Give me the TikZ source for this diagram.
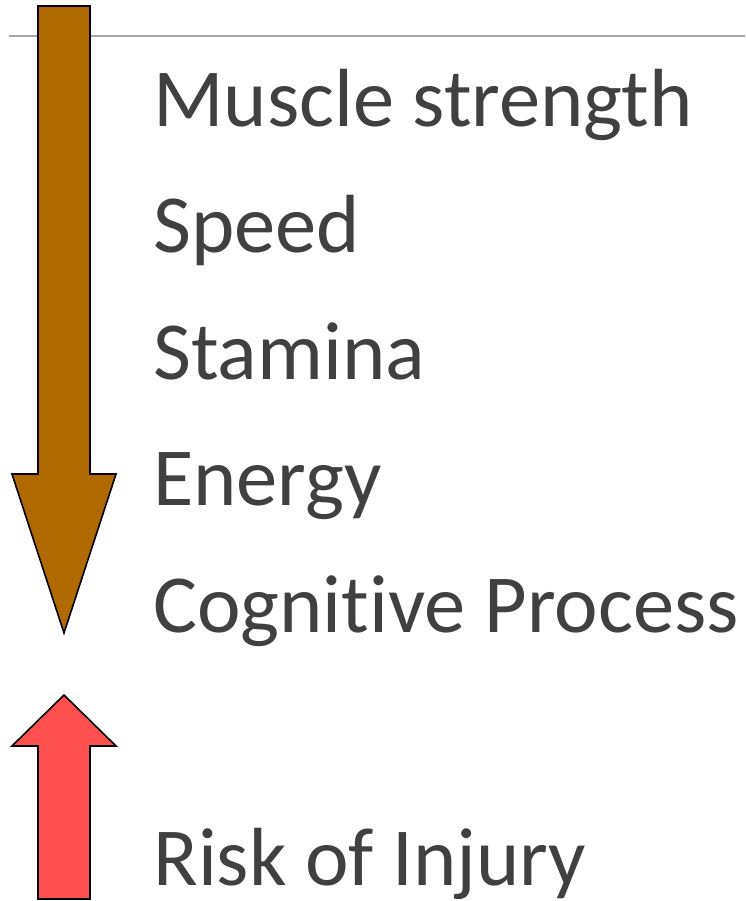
\documentclass[tikz,border=0pt]{standalone}
\usepackage{fontspec}
\setmainfont{Carlito}[Ligatures=NoCommon]
\definecolor{txtgray}{HTML}{404040}
\definecolor{rulegray}{HTML}{A6A6A6}
\definecolor{brownarr}{HTML}{B06A00}
\definecolor{redarr}{HTML}{FF5050}
\tikzset{item/.style={anchor=base west,inner sep=0pt,text=txtgray,font=\fontsize{82.5}{90}\selectfont}}
\newcommand{\factor}[3]{\node[item] (#1) at (153,#2) {#3};}
\newcommand{\dropArrow}[2]{\draw[fill=#2,line width=1.6pt,line join=miter] (38,6) -- (90,6) -- (90,474) -- (116,474) -- (64,633) -- (12,474) -- (38,474) -- cycle; \coordinate (#1) at (64,633);}
\newcommand{\riseArrow}[2]{\draw[fill=#2,line width=1.6pt,line join=miter] (64,695) -- (116,746) -- (90,746) -- (90,899) -- (38,899) -- (38,746) -- (12,746) -- cycle; \coordinate (#1) at (64,695);}

\begin{document}
\begin{tikzpicture}[x=1pt,y=-1pt]
    \useasboundingbox (0,0) rectangle (745,901);
    \coordinate (ruleL) at (9,36); \coordinate (ruleR) at (745,36);
    \draw[rulegray,line width=1.5pt] (ruleL) -- (ruleR);
    \dropArrow{down}{brownarr}
    \riseArrow{up}{redarr}
    \factor{muscle}{127}{Muscle strength}
    \factor{speed}{252}{Speed}
    \factor{stamina}{379}{Stamina}
    \factor{energy}{505}{Energy}
    \factor{cognitive}{632}{Cognitive Process}
    \factor{risk}{885}{Risk of Injury}
\end{tikzpicture}
\end{document}
